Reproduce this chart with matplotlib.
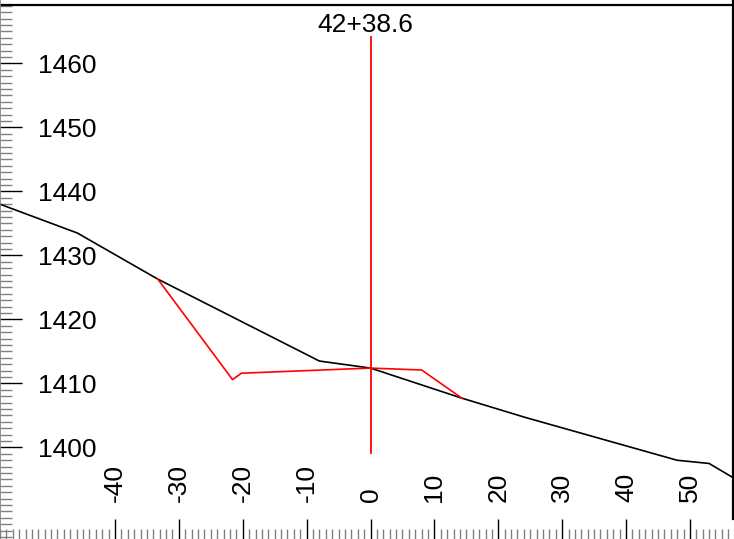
import matplotlib.pyplot as plt
from matplotlib.ticker import MultipleLocator

plt.rcParams['font.family'] = ['Liberation Sans', 'DejaVu Sans']
plt.rcParams['axes.unicode_minus'] = False

# Cross section at station 42+38.6 (offset, elevation)
station = "42+38.6"
ground_x = [-58.0, -45.9, -33.3, -8.0, 0.0, 14.3, 24.2, 48.0, 53.0, 56.9]
ground_y = [1438.0, 1433.5, 1426.3, 1413.5, 1412.4, 1407.7, 1404.7, 1398.0, 1397.5, 1395.2]
design_x = [-33.3, -21.6, -20.2, 0.0, 8.0, 14.3]
design_y = [1426.3, 1410.6, 1411.6, 1412.4, 1412.1, 1407.7]
center_y = [1399.1, 1464.1]

fig = plt.figure(figsize=(7.34, 5.39), dpi=100)
ax = fig.add_axes([0, 0, 1, 1])
ax.set_xlim(-58.0, 56.9)
ax.set_ylim(1385.7, 1469.9)

# ground and design template
ax.plot(ground_x, ground_y, color='black', linewidth=1.2)
ax.plot(design_x, design_y, color='#ff0000', linewidth=1.2)
ax.plot([0, 0], center_y, color='#ff0000', linewidth=1.3)

# frame lines at top and right
ax.axhline(1469.1, color='black', linewidth=1.6)
ax.axvline(56.75, ymin=(1388.8 - 1385.7) / (1469.9 - 1385.7), ymax=1, color='black', linewidth=1.6)

fs = 19
ax.text(365.5 / 734, 1 - 32 / 539, station, transform=ax.transAxes,
        ha='center', va='baseline', fontsize=fs)

# ruler style ticks
for s in ['top', 'right', 'bottom']:
    ax.spines[s].set_visible(False)
ax.spines['left'].set_color('#808080')
ax.spines['left'].set_linewidth(1.2)

ax.xaxis.set_major_locator(MultipleLocator(10))
ax.xaxis.set_minor_locator(MultipleLocator(1))
ax.yaxis.set_major_locator(MultipleLocator(10))
ax.yaxis.set_minor_locator(MultipleLocator(1))

ax.tick_params(axis='y', which='major', direction='in', length=16, width=1,
               color='black', labelsize=fs, pad=-27)
ax.tick_params(axis='y', which='minor', direction='in', length=8.6, width=1,
               color='#808080')
ax.tick_params(axis='x', which='major', direction='in', length=14.4, width=1,
               color='black', labelsize=fs, pad=-26.5, labelrotation=90)
ax.tick_params(axis='x', which='minor', direction='in', length=7.2, width=1,
               color='#808080')

ax.set_xticks(range(-40, 51, 10))
ax.set_yticks(range(1400, 1461, 10))
for lb in ax.get_yticklabels():
    lb.set_ha('left')
for lb in ax.get_xticklabels():
    lb.set_va('bottom')

fig.savefig('out.png', dpi=100)
